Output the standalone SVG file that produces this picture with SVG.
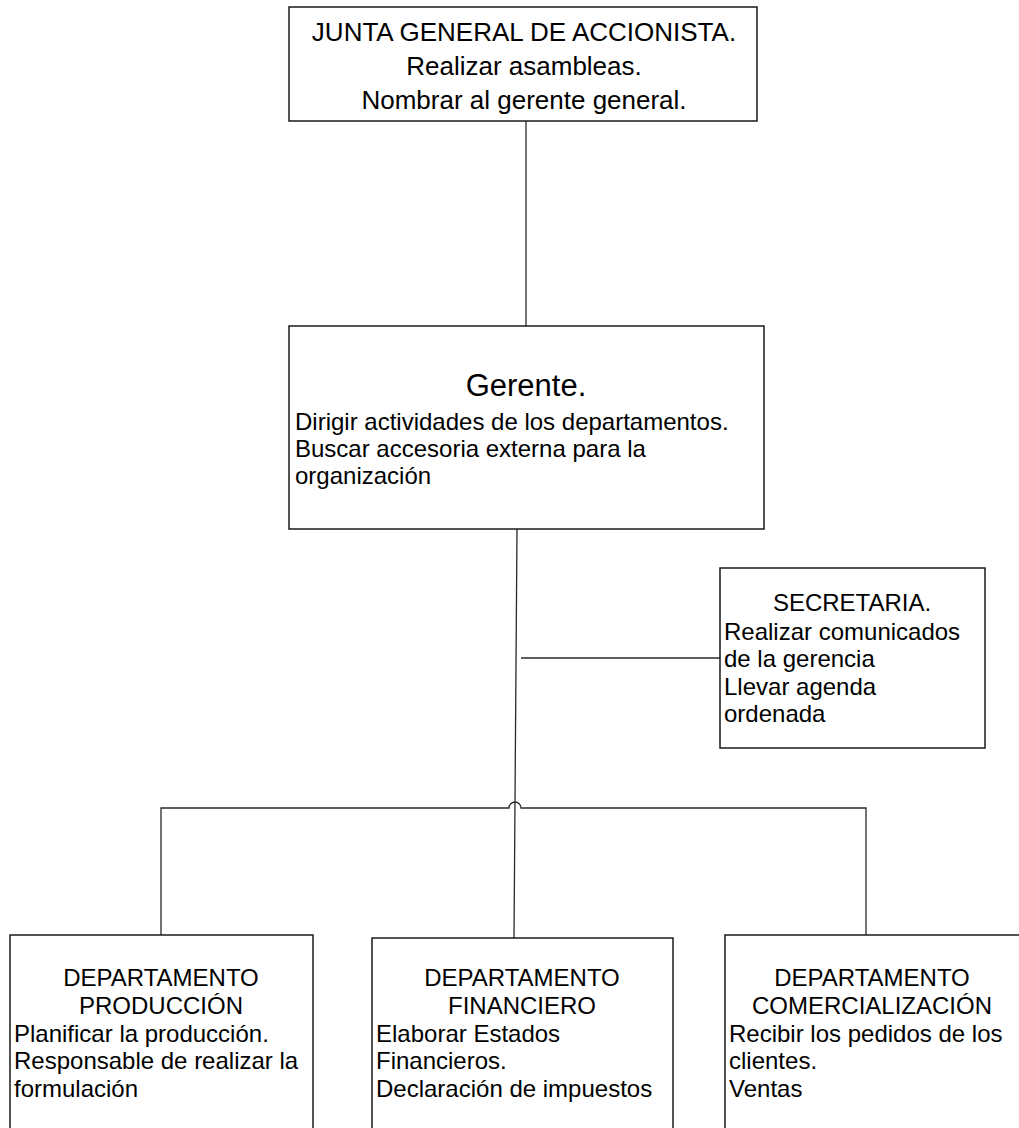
<svg xmlns="http://www.w3.org/2000/svg" width="1019" height="1128" viewBox="0 0 1019 1128">
  <style>
    .box { fill: #ffffff; stroke: #1a1a1a; stroke-width: 1.5; }
    .wire { fill: none; stroke: #2a2a2a; stroke-width: 1.3; }
    text { font-family: "Liberation Sans", Arial, sans-serif; fill: #000000; }
    .t { font-size: 26px; }
    .b { font-size: 24px; }
    .c { text-anchor: middle; }
    .big { font-size: 31px; text-anchor: middle; }
  </style>

  <rect width="1019" height="1128" fill="#ffffff"/>

  <!-- connectors -->
  <g id="connectors">
    <line class="wire" x1="526" y1="121" x2="526" y2="326"/>
    <line class="wire" x1="517" y1="529" x2="514" y2="938"/>
    <line class="wire" x1="521" y1="658" x2="720" y2="658"/>
    <!-- bus with a hop over the trunk -->
    <path class="wire" d="M161,935 V808 H509 A6,6 0 0 1 521,808 H866 V935"/>
  </g>

  <g id="junta">
    <rect class="box" x="289" y="7" width="468" height="114"/>
    <text class="t c" x="524" y="41">JUNTA GENERAL DE ACCIONISTA.</text>
    <text class="t c" x="524" y="75">Realizar asambleas.</text>
    <text class="t c" x="524" y="109">Nombrar al gerente general.</text>
  </g>

  <g id="gerente">
    <rect class="box" x="289" y="326" width="475" height="203"/>
    <text class="big" x="526" y="396">Gerente.</text>
    <text class="b" x="295" y="430">Dirigir actividades de los departamentos.</text>
    <text class="b" x="295" y="457">Buscar accesoria externa para la</text>
    <text class="b" x="295" y="484">organización</text>
  </g>

  <g id="secretaria">
    <rect class="box" x="720" y="568" width="265" height="180"/>
    <text class="b c" x="852" y="611">SECRETARIA.</text>
    <text class="b" x="724" y="640">Realizar comunicados</text>
    <text class="b" x="724" y="667">de la gerencia</text>
    <text class="b" x="724" y="695">Llevar agenda</text>
    <text class="b" x="724" y="722">ordenada</text>
  </g>

  <g id="produccion">
    <rect class="box" x="10" y="935" width="303" height="200"/>
    <text class="b c" x="161" y="986">DEPARTAMENTO</text>
    <text class="b c" x="161" y="1014">PRODUCCIÓN</text>
    <text class="b" x="14" y="1042">Planificar la producción.</text>
    <text class="b" x="14" y="1069">Responsable de realizar la</text>
    <text class="b" x="14" y="1097">formulación</text>
  </g>

  <g id="financiero">
    <rect class="box" x="372" y="938" width="301" height="200"/>
    <text class="b c" x="522" y="986">DEPARTAMENTO</text>
    <text class="b c" x="522" y="1014">FINANCIERO</text>
    <text class="b" x="376" y="1042">Elaborar Estados</text>
    <text class="b" x="376" y="1069">Financieros.</text>
    <text class="b" x="376" y="1097">Declaración de impuestos</text>
  </g>

  <g id="comercializacion">
    <rect class="box" x="725" y="935" width="310" height="200"/>
    <text class="b c" x="872" y="986">DEPARTAMENTO</text>
    <text class="b c" x="872" y="1014">COMERCIALIZACIÓN</text>
    <text class="b" x="729" y="1042">Recibir los pedidos de los</text>
    <text class="b" x="729" y="1069">clientes.</text>
    <text class="b" x="729" y="1097">Ventas</text>
  </g>
</svg>
